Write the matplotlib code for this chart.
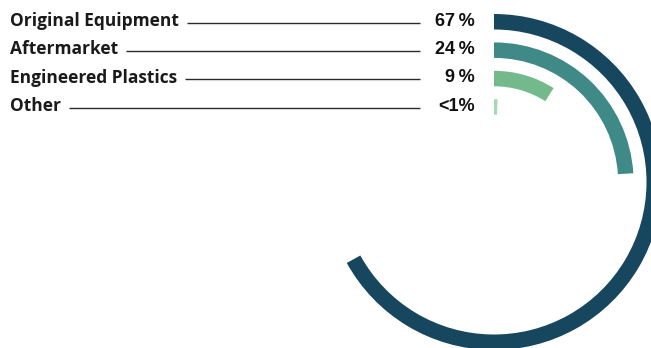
import numpy as np
import matplotlib
matplotlib.use("Agg")
import matplotlib.pyplot as plt

categories = ["Original Equipment", "Aftermarket", "Engineered Plastics", "Other"]
values = [67, 24, 9, 0.7]
value_labels = ["67\u2009%", "24\u2009%", "9\u2009%", "<1%"]
colors = ["#17465f", "#3f8a87", "#74b98c", "#a5d8b5"]

W, H = 651, 348
fig = plt.figure(figsize=(W / 100, H / 100), dpi=100)

# text/lines axes in pixel coordinates
tax = fig.add_axes([0, 0, 1, 1])
tax.set_xlim(0, W)
tax.set_ylim(H, 0)
tax.axis("off")

# polar axes for arcs
cx, cy, R = 494, 182, 170
pax = fig.add_axes([(cx - R) / W, (H - cy - R) / H, 2 * R / W, 2 * R / H],
                   projection="polar")
pax.set_theta_zero_location("N")
pax.set_theta_direction(-1)
pax.set_ylim(0, R)
pax.axis("off")

ring_w = 15.5
pitch = 28.4
for i, (v, c) in enumerate(zip(values, colors)):
    outer = R - 2 - pitch * i
    theta = v / 100 * 2 * np.pi
    pax.bar(theta / 2, ring_w, width=theta, bottom=outer - ring_w,
            color=c, edgecolor="none", linewidth=0)

fig.canvas.draw()
renderer = fig.canvas.get_renderer()
row_y0 = 21.0
for i, (cat, lab) in enumerate(zip(categories, value_labels)):
    y = row_y0 + pitch * i
    t = tax.text(10, y, cat, fontsize=12.5, family="Open Sans", fontweight="bold",
                 color="#1a1a1a", va="center", ha="left")
    bb = t.get_window_extent(renderer=renderer)
    x_end = bb.x1 + 8
    tax.plot([x_end, 420], [y + 1.5, y + 1.5], color="#2a2a2a", lw=1.0,
             solid_capstyle="butt")
    tax.text(475, y, lab, fontsize=13, family=["Liberation Sans", "DejaVu Sans"],
             fontweight="bold", color="#111111", va="center", ha="right")

fig.savefig("out.png", dpi=100)
